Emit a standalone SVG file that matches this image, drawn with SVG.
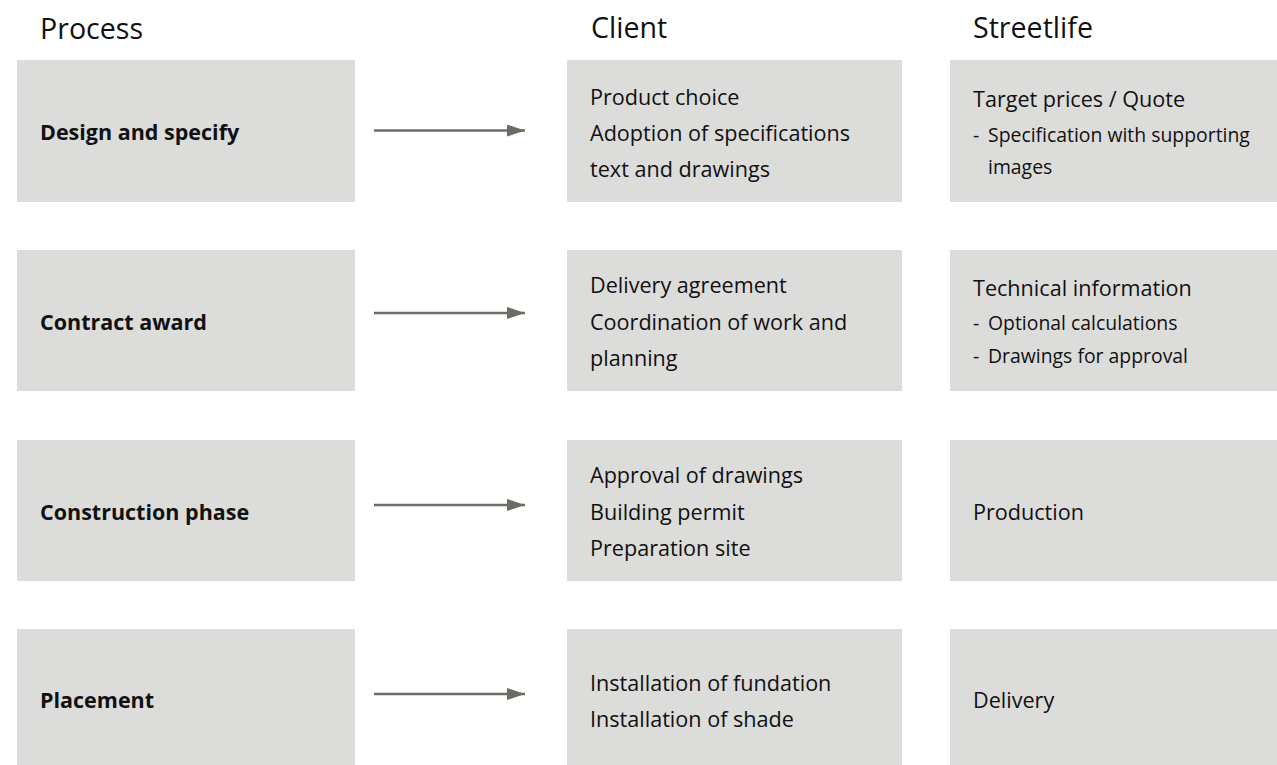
<svg xmlns="http://www.w3.org/2000/svg" width="1277" height="765" viewBox="0 0 1277 765">
<defs>
<style>
.box{fill:#dcdcdb}
.h{font-family:"Open Sans","Noto Sans",sans-serif;font-size:28.6px;fill:#111}
.t{font-family:"Open Sans","Noto Sans",sans-serif;font-size:21.6px;fill:#111}
.s{font-family:"Open Sans","Noto Sans",sans-serif;font-size:19.4px;fill:#111}
.b{font-family:"Open Sans","Noto Sans",sans-serif;font-size:21.5px;font-weight:bold;fill:#111}
.c{stroke:#6d6c64;stroke-width:2.5;fill:none}
</style>
<marker id="ah" markerWidth="18" markerHeight="12" refX="18" refY="6" orient="auto" markerUnits="userSpaceOnUse">
<path d="M0,0 L18,6 L0,12 Z" fill="#6d6c64"/>
</marker>
</defs>
<g id="headers">
<text class="h" x="40" y="39">Process</text>
<text class="h" x="591" y="38">Client</text>
<text class="h" x="973" y="38">Streetlife</text>
</g>
<g id="p1"><rect class="box" x="17" y="60" width="338" height="142"/><text class="b" x="40" y="140">Design and specify</text></g>
<g id="p2"><rect class="box" x="17" y="250" width="338" height="141"/><text class="b" x="40" y="330">Contract award</text></g>
<g id="p3"><rect class="box" x="17" y="440" width="338" height="141"/><text class="b" x="40" y="520">Construction phase</text></g>
<g id="p4"><rect class="box" x="17" y="629" width="338" height="136"/><text class="b" x="40" y="708">Placement</text></g>
<g id="c1"><rect class="box" x="567" y="60" width="335" height="142"/>
<text class="t" x="590" y="105">Product choice</text>
<text class="t" x="590" y="141">Adoption of specifications</text>
<text class="t" x="590" y="177">text and drawings</text></g>
<g id="c2"><rect class="box" x="567" y="250" width="335" height="141"/>
<text class="t" x="590" y="293">Delivery agreement</text>
<text class="t" x="590" y="330">Coordination of work and</text>
<text class="t" x="590" y="366">planning</text></g>
<g id="c3"><rect class="box" x="567" y="440" width="335" height="141"/>
<text class="t" x="590" y="483">Approval of drawings</text>
<text class="t" x="590" y="520">Building permit</text>
<text class="t" x="590" y="556">Preparation site</text></g>
<g id="c4"><rect class="box" x="567" y="629" width="335" height="136"/>
<text class="t" x="590" y="691">Installation of fundation</text>
<text class="t" x="590" y="727">Installation of shade</text></g>
<g id="s1"><rect class="box" x="950" y="60" width="327" height="142"/>
<text class="t" x="973" y="107">Target prices / Quote</text>
<text class="s" x="973" y="142">-</text><text class="s" x="988" y="142">Specification with supporting</text>
<text class="s" x="988" y="174">images</text></g>
<g id="s2"><rect class="box" x="950" y="250" width="327" height="141"/>
<text class="t" x="973" y="296">Technical information</text>
<text class="s" x="973" y="330">-</text><text class="s" x="988" y="330">Optional calculations</text>
<text class="s" x="973" y="363">-</text><text class="s" x="988" y="363">Drawings for approval</text></g>
<g id="s3"><rect class="box" x="950" y="440" width="327" height="141"/>
<text class="t" x="973" y="520">Production</text></g>
<g id="s4"><rect class="box" x="950" y="629" width="327" height="136"/>
<text class="t" x="973" y="708">Delivery</text></g>
<g id="connectors">
<line class="c" x1="374" y1="130.5" x2="525" y2="130.5" marker-end="url(#ah)"/>
<line class="c" x1="374" y1="313" x2="525" y2="313" marker-end="url(#ah)"/>
<line class="c" x1="374" y1="505" x2="525" y2="505" marker-end="url(#ah)"/>
<line class="c" x1="374" y1="694" x2="525" y2="694" marker-end="url(#ah)"/>
</g>
</svg>
